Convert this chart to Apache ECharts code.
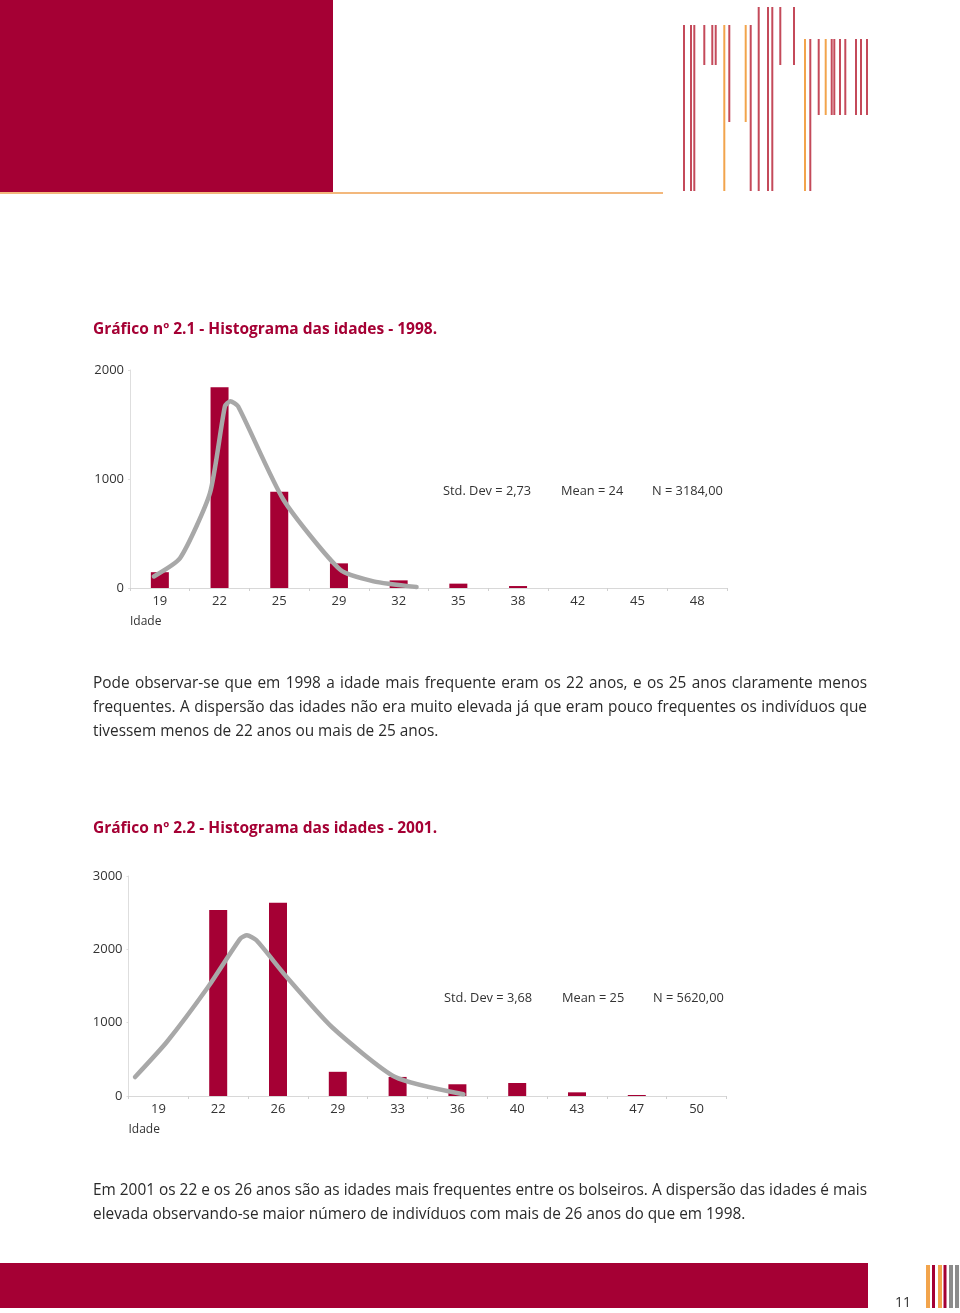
<!DOCTYPE html>
<html>
<head>
<meta charset="utf-8">
<script src="https://cdn.jsdelivr.net/npm/echarts@6/dist/echarts.min.js"></script>
<style>
  html, body { margin:0; padding:0; background:#fff; }
  body { width:960px; height:1313px; position:relative; overflow:hidden; font-family:"Open Sans", sans-serif; }
  #chart { position:absolute; left:0; top:0; width:960px; height:1313px; }
  .title { position:absolute; left:93px; font-weight:bold; font-size:15.5px; color:#a50034; white-space:nowrap; line-height:20px; }
  .para { position:absolute; left:93px; width:774px; font-size:15.4px; color:#2a2a2a; }
  .para div { line-height:24px; height:24px; text-align:justify; white-space:nowrap; }
  .para div.j { text-align-last:justify; white-space:normal; }
  .pagenum { position:absolute; left:895px; top:1292px; font-size:14px; color:#333; }
</style>
</head>
<body>
<div id="chart"></div>
<div class="title" style="top:318px;">Gráfico nº 2.1 - Histograma das idades - 1998.</div>
<div class="para" style="top:671px;">
  <div class="j">Pode observar-se que em 1998 a idade mais frequente eram os 22 anos, e os 25 anos claramente menos</div>
  <div class="j">frequentes. A dispersão das idades não era muito elevada já que eram pouco frequentes os indivíduos que</div>
  <div>tivessem menos de 22 anos ou mais de 25 anos.</div>
</div>
<div class="title" style="top:817px;">Gráfico nº 2.2 - Histograma das idades - 2001.</div>
<div class="para" style="top:1178px;">
  <div class="j">Em 2001 os 22 e os 26 anos são as idades mais frequentes entre os bolseiros. A dispersão das idades é mais</div>
  <div>elevada observando-se maior número de indivíduos com mais de 26 anos do que em 1998.</div>
</div>
<div class="pagenum">11</div>
<script>
// ---- Chart 2.1 (1998) ----
const ages1 = ['19','22','25','29','32','35','38','42','45','48'];
const counts1 = [145, 1842, 884, 226, 70, 40, 18, 0, 0, 0];
const curve1X = [-0.10, 0.34, 0.84, 1.09, 1.18, 1.31, 2.07, 3.02, 3.58, 4.30];
const curve1Y = [106, 275, 872, 1667, 1713, 1667, 810, 168, 61, 9];
const stats1 = ['Std. Dev = 2,73', 'Mean = 24', 'N = 3184,00'];
const yTicks1 = [0, 1000, 2000];

// ---- Chart 2.2 (2001) ----
const ages2 = ['19','22','26','29','33','36','40','43','47','50'];
const counts2 = [0, 2536, 2636, 330, 260, 160, 177, 50, 14, 0];
const curve2X = [-0.39, 0.14, 0.83, 1.37, 1.48, 1.64, 2.12, 2.90, 3.96, 5.10];
const curve2Y = [259, 736, 1486, 2146, 2191, 2123, 1646, 941, 259, 23];
const stats2 = ['Std. Dev = 3,68', 'Mean = 25', 'N = 5620,00'];
const yTicks2 = [0, 1000, 2000, 3000];

const axisName = 'Idade';

const RED = '#a50034';
const LOGO_RED = '#c44a5a';
const LOGO_ORANGE = '#f2a44c';
const GRAY = '#a8a8a8';

// decorative logo lines: [x, y1, y2, colorKey]
const logoLines = [
  [684,25,191,'r'],[691,25,191,'r'],[694.3,25,191,'r'],[704.3,25,65,'r'],[712.3,25,65,'r'],[715.7,25,65,'r'],
  [724.3,25,191,'o'],[729.3,25,122,'r'],[745.7,25,122,'o'],[750.7,25,191,'r'],[758.7,7,191,'r'],[768,7,191,'r'],
  [772.3,7,191,'r'],[780.3,7,65,'r'],[794,7,65,'r'],[805,39,191,'o'],[810.3,39,191,'r'],[818.7,39,115,'r'],
  [825.7,39,115,'o'],[831.7,39,115,'r'],[834.3,39,115,'r'],[840,39,115,'r'],[845.3,39,115,'r'],[856,39,115,'r'],
  [861,39,115,'r'],[867,39,115,'r']
];
const footBars = [[926,4,'o'],[932,3,'r'],[938,4,'o'],[943.5,3,'r'],[949,4,'g'],[955,4,'g']];
const colorOf = k => k === 'o' ? LOGO_ORANGE : (k === 'g' ? '#8c8c8c' : LOGO_RED);

const graphics = [
  { type:'rect', shape:{x:0,y:0,width:333,height:192}, style:{fill:RED} },
  { type:'rect', shape:{x:0,y:192,width:663,height:2}, style:{fill:'#f3b87c'} },
  { type:'rect', shape:{x:0,y:1263,width:868,height:45}, style:{fill:RED} }
];
logoLines.forEach(l => graphics.push({
  type:'rect', shape:{x:l[0]-1, y:l[1], width:2, height:l[2]-l[1]}, style:{fill:colorOf(l[3])}
}));
footBars.forEach(b => graphics.push({
  type:'rect', shape:{x:b[0], y:1265, width:b[1], height:43}, style:{fill: b[2]==='r' ? RED : colorOf(b[2])}
}));
const statX = [443, 561, 652];
stats1.forEach((s,i) => graphics.push({ type:'text', x:statX[i], y:491, style:{text:s, font:'12.8px "Open Sans"', fill:'#333', verticalAlign:'middle'} }));
stats2.forEach((s,i) => graphics.push({ type:'text', x:statX[i]+1, y:998, style:{text:s, font:'12.8px "Open Sans"', fill:'#333', verticalAlign:'middle'} }));

function catAxis(gridIndex, cats) {
  return {
    type:'category', gridIndex, data:cats, boundaryGap:true,
    name: axisName, nameLocation:'start', nameGap:0,
    nameTextStyle:{ color:'#333', fontSize:12, fontFamily:'Open Sans', align:'left', verticalAlign:'top', padding:[28,0,0,0] },
    axisLine:{ onZero:false, lineStyle:{ color:'#d8d8d8', width:1 } },
    axisTick:{ show:true, length:3, lineStyle:{ color:'#d0d0d0' } },
    axisLabel:{ color:'#333', fontSize:13, fontFamily:'Open Sans', margin:7 },
    splitLine:{ show:false }
  };
}
function valX(gridIndex) {
  return { type:'value', gridIndex, min:-0.5, max:9.5, show:false, splitLine:{show:false} };
}
function valY(gridIndex, max) {
  return {
    type:'value', gridIndex, min:0, max, interval:1000,
    axisLine:{ show:true, onZero:false, lineStyle:{ color:'#dedede' } },
    axisTick:{ show:true, length:2, lineStyle:{ color:'#dedede' } },
    axisLabel:{ color:'#333', fontSize:13, fontFamily:'Open Sans', margin:6, padding:[0,0,5,0], formatter: v => String(v) },
    splitLine:{ show:false }
  };
}

const chart = echarts.init(document.getElementById('chart'), null, { renderer:'canvas' });
chart.setOption({
  animation:false,
  backgroundColor:'#fff',
  grid:[
    { left:130, top:370, width:597, height:218 },
    { left:128.5, top:876, width:598, height:220 }
  ],
  xAxis:[ catAxis(0, ages1), valX(0), catAxis(1, ages2), valX(1) ],
  yAxis:[ valY(0, yTicks1[yTicks1.length-1]), valY(1, yTicks2[yTicks2.length-1]) ],
  series:[
    { type:'bar', xAxisIndex:0, yAxisIndex:0, data:counts1, barWidth:18, itemStyle:{ color:RED }, z:2 },
    { type:'line', xAxisIndex:1, yAxisIndex:0, data:curve1X.map((x,i)=>[x,curve1Y[i]]),
      showSymbol:false, smooth:0.2, lineStyle:{ color:GRAY, width:4.5, cap:'round', join:'round' }, z:3 },
    { type:'bar', xAxisIndex:2, yAxisIndex:1, data:counts2, barWidth:18, itemStyle:{ color:RED }, z:2 },
    { type:'line', xAxisIndex:3, yAxisIndex:1, data:curve2X.map((x,i)=>[x,curve2Y[i]]),
      showSymbol:false, smooth:0.2, lineStyle:{ color:GRAY, width:4.5, cap:'round', join:'round' }, z:3 }
  ],
  graphic: graphics
});
</script>
</body>
</html>
